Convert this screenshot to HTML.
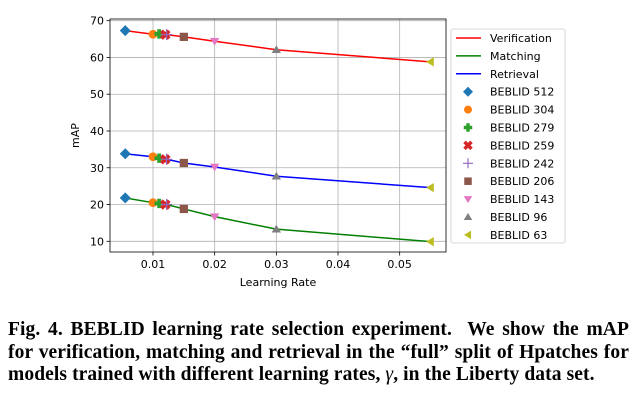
<!DOCTYPE html>
<html><head><meta charset="utf-8">
<style>
body{margin:0;background:#fff;width:639px;height:408px;overflow:hidden;position:relative}
.cap{position:absolute;left:8px;width:621px;font-family:"Liberation Serif",serif;font-weight:bold;font-size:19.5px;line-height:22.5px;top:319px;letter-spacing:0.1px}
.cap div{text-align:justify;text-align-last:justify;white-space:nowrap}
.cap div.last{text-align-last:left}
</style></head><body>
<svg id="chart" width="639" height="310" style="position:absolute;left:0;top:0" font-family="DejaVu Sans, sans-serif"></svg>
<div class="cap">
<div>Fig. 4. BEBLID learning rate selection experiment. &nbsp;We show the mAP</div>
<div>for verification, matching and retrieval in the “full” split of Hpatches for</div>
<div class="last">models trained with different learning rates, <i style="font-weight:normal">γ</i>, in the Liberty data set.</div>
</div>
<script>
const models=["BEBLID 512","BEBLID 304","BEBLID 279","BEBLID 259","BEBLID 242","BEBLID 206","BEBLID 143","BEBLID 96","BEBLID 63"];
const rates=[0.0055,0.01,0.011,0.012,0.0122,0.015,0.02,0.03,0.055];
const verification=[67.3,66.3,66.4,66.2,66.2,65.6,64.4,62.1,58.8];
const matching=[21.8,20.5,20.3,20.0,20.0,18.8,16.7,13.3,9.9];
const retrieval=[33.8,33.0,32.6,32.3,32.3,31.3,30.2,27.7,24.6];
const xTicks=[0.01,0.02,0.03,0.04,0.05];
const yTicks=[10,20,30,40,50,60,70];

const NS="http://www.w3.org/2000/svg";
const svg=document.getElementById('chart');
const L=110,R=446,T=19,B=252;
const X=v=>153+(v-0.01)*6167;
const Y=v=>241.3-(v-10)*3.677;
function mk(t,a,p){const e=document.createElementNS(NS,t);for(const k in a)e.setAttribute(k,a[k]);(p||svg).appendChild(e);return e;}
const colors=["#1f77b4","#ff7f0e","#2ca02c","#d62728","#9467bd","#8c564b","#e377c2","#7f7f7f","#bcbd22"];
const shapes=["D","o","P","X","+","s","v","^","<"];
function marker(s,cx,cy,c,sz){
  let e;
  if(s=="D")e=mk('polygon',{points:`${cx},${cy-sz} ${cx+sz},${cy} ${cx},${cy+sz} ${cx-sz},${cy}`,fill:c});
  else if(s=="o")e=mk('circle',{cx,cy,r:sz*0.8,fill:c});
  else if(s=="P"){const a=sz*0.35,b=sz*0.85;e=mk('path',{d:`M${cx-a},${cy-b}h${2*a}v${b-a}h${b-a}v${2*a}h${-(b-a)}v${b-a}h${-2*a}v${-(b-a)}h${-(b-a)}v${-2*a}h${b-a}z`,fill:c});}
  else if(s=="X"){e=mk('g',{});const d=sz*0.7;mk('path',{d:`M${cx-d},${cy-d}L${cx+d},${cy+d}M${cx+d},${cy-d}L${cx-d},${cy+d}`,stroke:c,'stroke-width':sz*0.7},e);}
  else if(s=="+")e=mk('path',{d:`M${cx-sz},${cy}h${2*sz}M${cx},${cy-sz}v${2*sz}`,stroke:c,'stroke-width':1.2});
  else if(s=="s")e=mk('rect',{x:cx-sz*0.75,y:cy-sz*0.75,width:sz*1.5,height:sz*1.5,fill:c});
  else if(s=="v")e=mk('polygon',{points:`${cx-sz*0.85},${cy-sz*0.6} ${cx+sz*0.85},${cy-sz*0.6} ${cx},${cy+sz*0.8}`,fill:c});
  else if(s=="^")e=mk('polygon',{points:`${cx-sz*0.85},${cy+sz*0.6} ${cx+sz*0.85},${cy+sz*0.6} ${cx},${cy-sz*0.8}`,fill:c});
  else e=mk('polygon',{points:`${cx+sz*0.6},${cy-sz*0.85} ${cx+sz*0.6},${cy+sz*0.85} ${cx-sz*0.8},${cy}`,fill:c});
  return e;
}
xTicks.forEach(t=>{const l=mk('line',{x1:X(t),x2:X(t),y1:T,y2:B,stroke:'#b0b0b0','stroke-width':0.8});
 mk('line',{x1:X(t),x2:X(t),y1:B,y2:B+3.5,stroke:'#000','stroke-width':0.8});
 const tx=mk('text',{x:X(t),y:B+16,'font-size':11,'text-anchor':'middle'});tx.textContent=t.toFixed(2);});
yTicks.forEach(t=>{const l=mk('line',{x1:L,x2:R,y1:Y(t),y2:Y(t),stroke:'#b0b0b0','stroke-width':0.8});
 mk('line',{x1:L-3.5,x2:L,y1:Y(t),y2:Y(t),stroke:'#000','stroke-width':0.8});
 const tx=mk('text',{x:L-6,y:Y(t)+4,'font-size':11,'text-anchor':'end'});tx.textContent=t;});
[[verification,'#ff0000','verification-line'],[matching,'#008000','matching-line'],[retrieval,'#0000ff','retrieval-line']].forEach(([s,c,n])=>{
 const p=mk('polyline',{points:s.map((v,i)=>X(rates[i])+','+Y(v)).join(' '),fill:'none',stroke:c,'stroke-width':1.5});
 
 s.forEach((v,i)=>{const m=marker(shapes[i],X(rates[i]),Y(v),colors[i],5.5);});
});
const fr=mk('rect',{x:L,y:T,width:R-L,height:B-T,fill:'none',stroke:'#000','stroke-width':0.8});

const xl=mk('text',{x:(L+R)/2,y:286,'font-size':11,'text-anchor':'middle'});xl.textContent='Learning Rate';
const yl=mk('text',{x:0,y:0,'font-size':11,'text-anchor':'middle',transform:`translate(79,${(T+B)/2}) rotate(-90)`});yl.textContent='mAP';
const lg=mk('g',{});
mk('rect',{x:451,y:29,width:114,height:214,rx:2,fill:'#fff',stroke:'#ccc','stroke-width':0.8},lg);
const lines=[['Verification','#ff0000'],['Matching','#008000'],['Retrieval','#0000ff']];
lines.forEach((d,i)=>{const y=38+i*17.9;mk('line',{x1:456,x2:481,y1:y,y2:y,stroke:d[1],'stroke-width':1.5},lg);
 const t=mk('text',{x:490,y:y+4,'font-size':11},lg);t.textContent=d[0];});
models.forEach((m,i)=>{const y=38+(i+3)*17.9;marker(shapes[i],468,y,colors[i],5);
 const t=mk('text',{x:490,y:y+4,'font-size':11},lg);t.textContent=m;});
</script>
</body></html>
